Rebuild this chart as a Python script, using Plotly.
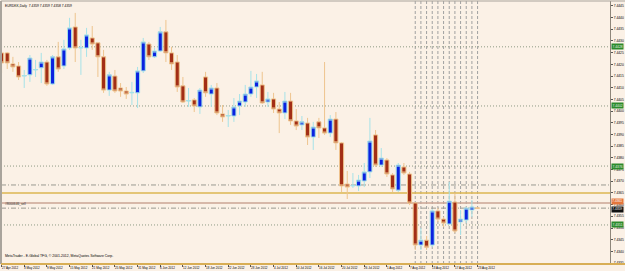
import plotly.graph_objects as go
import pandas as pd

# ---------------- data ----------------
chart_title = "EURDKK,Daily  7.4359 7.4359 7.4358 7.4359"
footer_text = "MetaTrader - E-Global TFG, \u00a9 2001-2012, MetaQuotes Software Corp."
order_label = "#8000646_sell"

dates = [d.strftime("%Y-%m-%d") for d in pd.bdate_range("2012-04-27", "2012-08-23")]

opens = [7.44249, 7.44249, 7.44202, 7.44193, 7.44150, 7.44155, 7.44176, 7.44185, 7.44210, 7.44116,
         7.44232, 7.44193, 7.44270, 7.44360, 7.44270, 7.44270, 7.44313, 7.44292, 7.44232, 7.44090,
         7.44150, 7.44099, 7.44086, 7.44078, 7.44078, 7.44172, 7.44287, 7.44232, 7.44257, 7.44339,
         7.44249, 7.44210, 7.44108, 7.44043, 7.44048, 7.44018, 7.44146, 7.44073, 7.44099, 7.43988,
         7.43979, 7.43979, 7.44022, 7.44039, 7.44073, 7.44103, 7.44112, 7.44039, 7.44052, 7.44009,
         7.43992, 7.44043, 7.43958, 7.43941, 7.43949, 7.43889, 7.43954, 7.43928, 7.43906, 7.43966,
         7.43864, 7.43688, 7.43680, 7.43680, 7.43701, 7.43740, 7.43898, 7.43769, 7.43791, 7.43727,
         7.43662, 7.43761, 7.43731, 7.43607, 7.43427, 7.43448, 7.43427, 7.43573, 7.43538, 7.43517,
         7.43611, 7.43526, 7.43534, 7.43577, 7.43585]
highs = [7.44257, 7.44253, 7.44232, 7.44210, 7.44176, 7.44240, 7.44219, 7.44249, 7.44219, 7.44240,
         7.44296, 7.44305, 7.44399, 7.44420, 7.44305, 7.44356, 7.44364, 7.44296, 7.44262, 7.44168,
         7.44176, 7.44120, 7.44103, 7.44125, 7.44189, 7.44313, 7.44296, 7.44270, 7.44360, 7.44390,
         7.44275, 7.44240, 7.44146, 7.44099, 7.44056, 7.44099, 7.44168, 7.44112, 7.44120, 7.44026,
         7.44005, 7.44056, 7.44073, 7.44112, 7.44172, 7.44159, 7.44168, 7.44082, 7.44078, 7.44039,
         7.44082, 7.44078, 7.44009, 7.43979, 7.43971, 7.43954, 7.43971, 7.44210, 7.43983, 7.43996,
         7.43868, 7.43744, 7.43735, 7.43727, 7.43778, 7.43971, 7.43919, 7.43842, 7.43799, 7.43735,
         7.43778, 7.43778, 7.43740, 7.43611, 7.43500, 7.43466, 7.43581, 7.43585, 7.43547, 7.43697,
         7.43650, 7.43577, 7.43590, 7.43620, 7.43587]
lows = [7.44163, 7.44180, 7.44168, 7.44133, 7.44099, 7.44125, 7.44146, 7.44120, 7.44108, 7.44112,
        7.44168, 7.44180, 7.44262, 7.44210, 7.44155, 7.44232, 7.44262, 7.44146, 7.44078, 7.44065,
        7.44078, 7.44061, 7.44052, 7.44026, 7.44013, 7.44163, 7.44219, 7.44227, 7.44253, 7.44210,
        7.44176, 7.44082, 7.44035, 7.44018, 7.43996, 7.43988, 7.44061, 7.44018, 7.43983, 7.43954,
        7.43932, 7.43954, 7.43983, 7.44018, 7.44061, 7.44056, 7.44031, 7.44018, 7.43992, 7.43906,
        7.43966, 7.43941, 7.43919, 7.43919, 7.43855, 7.43834, 7.43885, 7.43898, 7.43889, 7.43834,
        7.43654, 7.43624, 7.43671, 7.43658, 7.43675, 7.43714, 7.43761, 7.43761, 7.43718, 7.43654,
        7.43654, 7.43727, 7.43598, 7.43406, 7.43406, 7.43406, 7.43418, 7.43526, 7.43504, 7.43513,
        7.43478, 7.43470, 7.43521, 7.43547, 7.43583]
closes = [7.44206, 7.44206, 7.44189, 7.44146, 7.44152, 7.44227, 7.44178, 7.44210, 7.44116, 7.44232,
          7.44180, 7.44266, 7.44356, 7.44270, 7.44272, 7.44326, 7.44287, 7.44232, 7.44090, 7.44155,
          7.44086, 7.44086, 7.44073, 7.44080, 7.44172, 7.44296, 7.44232, 7.44257, 7.44339, 7.44249,
          7.44202, 7.44103, 7.44039, 7.44045, 7.44022, 7.44090, 7.44078, 7.44099, 7.43992, 7.43975,
          7.43981, 7.44018, 7.44043, 7.44073, 7.44103, 7.44129, 7.44035, 7.44052, 7.44009, 7.43992,
          7.44043, 7.43958, 7.43936, 7.43954, 7.43889, 7.43932, 7.43928, 7.43906, 7.43966, 7.43864,
          7.43680, 7.43675, 7.43682, 7.43705, 7.43740, 7.43872, 7.43769, 7.43799, 7.43731, 7.43667,
          7.43769, 7.43735, 7.43607, 7.43427, 7.43448, 7.43418, 7.43573, 7.43538, 7.43521, 7.43615,
          7.43487, 7.43538, 7.43585, 7.43590, 7.43585]

date_tick_dates = ["2012-04-27", "2012-05-03", "2012-05-09", "2012-05-15", "2012-05-21", "2012-05-25",
                   "2012-05-31", "2012-06-06", "2012-06-12", "2012-06-18", "2012-06-22", "2012-06-28",
                   "2012-07-04", "2012-07-10", "2012-07-16", "2012-07-20", "2012-07-26", "2012-08-01",
                   "2012-08-07", "2012-08-13", "2012-08-17", "2012-08-23"]
date_tick_text = ["27 Apr 2012", "3 May 2012", "9 May 2012", "15 May 2012", "21 May 2012", "25 May 2012",
                  "31 May 2012", "6 Jun 2012", "12 Jun 2012", "18 Jun 2012", "22 Jun 2012", "28 Jun 2012",
                  "4 Jul 2012", "10 Jul 2012", "16 Jul 2012", "20 Jul 2012", "26 Jul 2012", "1 Aug 2012",
                  "7 Aug 2012", "13 Aug 2012", "17 Aug 2012", "23 Aug 2012"]

# horizontal levels
dotted_levels = [7.44275, 7.44022, 7.43765, 7.43513]
dashdot_levels = [7.43684, 7.43585]
gold_level = 7.43650
rose_level = 7.43607
bid_price = 7.43585

# vertical day markers
vline_dates = ["2012-08-08", "2012-08-09", "2012-08-10", "2012-08-13", "2012-08-14", "2012-08-15",
               "2012-08-16", "2012-08-17", "2012-08-20", "2012-08-21", "2012-08-22", "2012-08-23"]

# ---------------- style ----------------
BG = "#FBF1E6"
FONT = "Liberation Sans"
y_range = [7.43346, 7.44471]
x_range = [-0.1, 107.37]

fig = go.Figure()
fig.add_trace(go.Candlestick(
    x=dates, open=opens, high=highs, low=lows, close=closes,
    increasing=dict(line=dict(color="#A6E2E8", width=1), fillcolor="#0A22E0"),
    decreasing=dict(line=dict(color="#EEC48E", width=1), fillcolor="#A22E16"),
    whiskerwidth=0, hoverinfo="skip", showlegend=False,
))

shapes = []
for v in vline_dates:
    shapes.append(dict(type="line", xref="x", yref="paper", x0=v, x1=v, y0=0, y1=1,
                       line=dict(color="#A0A0A0", width=1, dash="3px,2px"), layer="below"))
for lv in dotted_levels:
    shapes.append(dict(type="line", xref="paper", yref="y", x0=0, x1=1, y0=lv, y1=lv,
                       line=dict(color="#8E9A84", width=1, dash="1px,2px"), layer="below"))
for lv in dashdot_levels:
    shapes.append(dict(type="line", xref="paper", yref="y", x0=0, x1=1, y0=lv, y1=lv,
                       line=dict(color="#9A9A90", width=1, dash="5px,2px,1px,2px"), layer="below"))
shapes.append(dict(type="line", xref="paper", yref="y", x0=0, x1=1, y0=gold_level, y1=gold_level,
                   line=dict(color="#DDB650", width=1.5), layer="below"))
shapes.append(dict(type="line", xref="paper", yref="y", x0=0, x1=1, y0=rose_level, y1=rose_level,
                   line=dict(color="#CBA595", width=1.5), layer="below"))
# frame
shapes.append(dict(type="line", xref="paper", yref="paper", x0=0, x1=0, y0=0, y1=1,
                   line=dict(color="#A9A49C", width=2)))
shapes.append(dict(type="line", xref="paper", yref="paper", x0=0, x1=1.03, y0=1, y1=1,
                   line=dict(color="#A9A49C", width=1)))
shapes.append(dict(type="line", xref="paper", yref="paper", x0=0, x1=1.03, y0=0, y1=0,
                   line=dict(color="#D8AE55", width=2)))

annotations = [
    dict(text=chart_title, xref="paper", yref="paper", x=0.004, y=1, xanchor="left", yanchor="top",
         yshift=-1, showarrow=False, font=dict(size=3.3, color="#000", family=FONT)),
    dict(text=footer_text, xref="paper", yref="paper", x=0.004, y=0, xanchor="left", yanchor="bottom",
         yshift=4, showarrow=False, font=dict(size=3.45, color="#000", family=FONT)),
    dict(text=order_label, xref="paper", yref="y", x=0.004, y=dashdot_levels[1], xanchor="left",
         yanchor="bottom", showarrow=False, font=dict(size=3.2, color="#333", family=FONT)),
]
for d, t in zip(date_tick_dates, date_tick_text):
    annotations.append(dict(text=t, xref="x", yref="paper", x=d, y=0, xanchor="left", yanchor="top",
                            xshift=-1, yshift=-1, showarrow=False, borderpad=0,
                            font=dict(size=3.0, color="#000", family=FONT)))
for lv in dotted_levels:
    annotations.append(dict(text=f"{lv:.4f}", xref="paper", yref="y", x=1, y=lv, xanchor="left",
                            yanchor="middle", xshift=1, showarrow=False, bgcolor="#2C8A2C",
                            borderpad=0.5, font=dict(size=3.3, color="#E8F4E8", family=FONT)))
annotations.append(dict(text=f"{rose_level:.4f}", xref="paper", yref="y", x=1, y=rose_level, xanchor="left",
                        yanchor="middle", xshift=1, yshift=1.5, showarrow=False, bgcolor="#E4763C",
                        borderpad=0.3, font=dict(size=3.2, color="#FFFFFF", family=FONT)))
annotations.append(dict(text=f"{bid_price:.4f}", xref="paper", yref="y", x=1, y=bid_price, xanchor="left",
                        yanchor="middle", xshift=1, yshift=-1.5, showarrow=False, bgcolor="#111111",
                        borderpad=0.3, font=dict(size=3.2, color="#FFFFFF", family=FONT)))

fig.update_layout(
    width=625, height=271,
    margin=dict(l=1, r=15, t=1, b=7, pad=0),
    paper_bgcolor=BG, plot_bgcolor=BG,
    showlegend=False,
    shapes=shapes, annotations=annotations,
    boxgap=0.2, boxgroupgap=0.1,
    xaxis=dict(type="category", range=x_range, showgrid=False, zeroline=False, showline=False,
               rangeslider=dict(visible=False), tickmode="array", tickvals=date_tick_dates,
               ticks="outside", ticklen=2, tickcolor="#555", showticklabels=False, automargin=False),
    yaxis=dict(side="right", range=y_range, showgrid=False, zeroline=False, showline=True,
               linecolor="#8E867A", linewidth=1, tick0=7.4340, dtick=0.0005, tickformat=".4f",
               ticks="outside", ticklen=2, tickcolor="#555", automargin=False,
               tickfont=dict(size=3.3, color="#000", family=FONT)),
)

fig.write_html("out.html", config={"displayModeBar": False})
